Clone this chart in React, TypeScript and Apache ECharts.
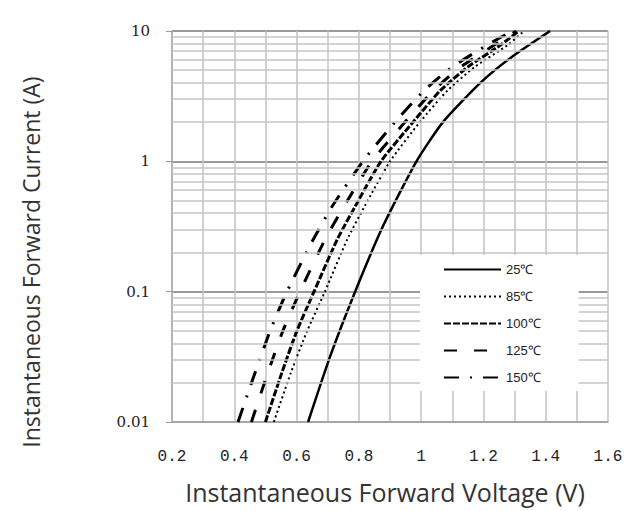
import React, { useEffect, useRef } from "react";
import * as echarts from "echarts";

// Forward current (A) sample points shared by the hot curves
const currentsHot = [0.01, 0.024, 0.05, 0.1, 0.25, 0.45, 1, 2, 3.5, 5.3, 7.8, 10];
const v150 = [0.412, 0.467, 0.515, 0.569, 0.653, 0.714, 0.813, 0.916, 1.01, 1.1, 1.212, 1.292];
const v125 = [0.455, 0.508, 0.556, 0.611, 0.691, 0.752, 0.842, 0.948, 1.04, 1.127, 1.235, 1.305];
const v100 = [0.5, 0.553, 0.601, 0.656, 0.73, 0.788, 0.871, 0.974, 1.062, 1.15, 1.255, 1.314];
const v85 = [0.527, 0.582, 0.634, 0.691, 0.762, 0.818, 0.9, 0.996, 1.085, 1.172, 1.278, 1.33];

// 25 degC curve
const currents25 = [0.01, 0.032, 0.1, 0.32, 1, 2, 4, 6.3, 10];
const v25 = [0.637, 0.708, 0.788, 0.878, 0.985, 1.07, 1.19, 1.29, 1.414];

const seriesNames = ["25℃", "85℃", "100℃", "125℃", "150℃"];
const minorGridY = [
  0.02, 0.03, 0.04, 0.05, 0.06, 0.07, 0.08, 0.09,
  0.2, 0.3, 0.4, 0.5, 0.6, 0.7, 0.8, 0.9,
  2, 3, 4, 5, 6, 7, 8, 9,
];
const xTitle = "Instantaneous Forward Voltage (V)";
const yTitle = "Instantaneous Forward Current (A)";

const zip = (xs: number[], ys: number[]) => xs.map((x, i) => [x, ys[i]]);

export default function App() {
  const ref = useRef<HTMLDivElement>(null);
  useEffect(() => {
    if (!ref.current) return;
    const chart = echarts.init(ref.current, undefined, { renderer: "svg" });
    const lineBase = (name: string, data: number[][], type: any, width: number) => ({
      name,
      type: "line",
      data,
      symbol: "none",
      smooth: 0.2,
      z: 3,
      itemStyle: { color: "#000" },
      lineStyle: { color: "#000", width, type },
    });
    const option: any = {
      animation: false,
      backgroundColor: "#fff",
      grid: { left: 172, right: 35, top: 31, bottom: 89 },
      xAxis: {
        type: "value",
        min: 0.2,
        max: 1.6,
        interval: 0.2,
        axisLine: { show: true, lineStyle: { color: "#aaa", width: 1.5 } },
        axisTick: { show: false },
        axisLabel: {
          margin: 27,
          fontFamily: "Liberation Mono",
          fontSize: 16,
          color: "#222",
          formatter: (v: number) => String(parseFloat(v.toFixed(1))),
        },
        splitLine: { show: true, lineStyle: { color: "#c2c2c2", width: 1.5 } },
        minorTick: { show: false, splitNumber: 2 },
        minorSplitLine: { show: true, lineStyle: { color: "#c2c2c2", width: 1.5 } },
      },
      yAxis: {
        type: "log",
        logBase: 10,
        min: 0.01,
        max: 10,
        axisLine: { show: true, lineStyle: { color: "#aaa", width: 1.5 } },
        axisTick: { show: true, length: 6, lineStyle: { color: "#999" } },
        axisLabel: {
          margin: 22,
          fontFamily: "DejaVu Serif",
          fontSize: 15,
          color: "#222",
          formatter: (v: number) => String(parseFloat(Number(v).toPrecision(3))),
        },
        splitLine: { show: true, lineStyle: { color: "#9a9a9a", width: 2 } },
      },
      legend: {
        data: seriesNames,
        orient: "vertical",
        left: 420,
        top: 255,
        backgroundColor: "#fff",
        padding: [8, 38, 7, 23],
        itemWidth: 57,
        itemHeight: 14,
        itemGap: 14,
        itemStyle: { opacity: 0 },
        textStyle: { fontSize: 13, color: "#222", fontFamily: "Liberation Sans" },
        z: 10,
      },
      graphic: [
        {
          type: "text",
          x: 385,
          y: 492,
          style: {
            text: xTitle,
            font: '25px "Open Sans"',
            fill: "#333",
            align: "center",
            verticalAlign: "middle",
          },
        },
        {
          type: "text",
          x: 31,
          y: 262,
          rotation: Math.PI / 2,
          style: {
            text: yTitle,
            font: '23px "Open Sans"',
            fill: "#333",
            align: "center",
            verticalAlign: "middle",
          },
        },
      ],
      series: [
        {
          name: "minorGrid",
          type: "line",
          data: [],
          silent: true,
          symbol: "none",
          z: 1,
          markLine: {
            silent: true,
            symbol: "none",
            animation: false,
            label: { show: false },
            emphasis: { disabled: true },
            lineStyle: { color: "#c4c4c4", width: 1.5, type: "solid" },
            data: minorGridY.map((v) => ({ yAxis: v })),
          },
        },
        lineBase("25℃", zip(v25, currents25), "solid", 2.5),
        lineBase("85℃", zip(v85, currentsHot), [2, 3], 2),
        lineBase("100℃", zip(v100, currentsHot), [7, 2], 3),
        lineBase("125℃", zip(v125, currentsHot), [13, 17], 3),
        lineBase("150℃", zip(v150, currentsHot), [15, 11, 2, 11], 3),
      ],
    };
    chart.setOption(option);
    return () => chart.dispose();
  }, []);
  return (
    <div
      ref={ref}
      style={{ position: "absolute", left: 0, top: 0, width: 643, height: 511 }}
    />
  );
}
